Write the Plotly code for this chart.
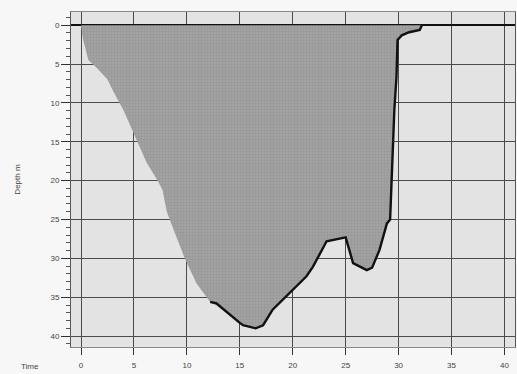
import plotly.graph_objects as go

# Boundary of the filled region (Time, Depth)
top_x = [0, 32.2]
top_y = [0, 0]

right_x = [32.2, 32.0, 31.0, 30.3, 29.9, 29.8, 29.6, 29.4, 29.3, 29.2, 28.9, 28.2, 27.5, 27.0,
           25.7, 25.2, 25.0, 23.2, 21.9, 21.3, 19.7, 18.1, 17.2, 16.5, 15.3, 15.0, 12.8, 12.2]
right_y = [0, 0.6, 0.9, 1.3, 1.9, 6.7, 10.9, 17.4, 22.5, 25.0, 25.5, 28.9, 31.2, 31.5,
           30.6, 28.0, 27.3, 27.8, 31.1, 32.3, 34.5, 36.6, 38.6, 39.0, 38.6, 38.3, 35.8, 35.6]

left_x = [12.2, 10.9, 9.8, 9.0, 8.1, 7.7, 7.2, 6.2, 5.4, 4.8, 4.0, 3.0, 2.5, 1.5, 0.7, 0.2, 0]
left_y = [35.6, 33.2, 30.0, 27.2, 24.0, 21.2, 19.9, 17.7, 15.2, 13.5, 10.9, 8.4, 7.0, 5.5, 4.5, 1.9, 0]

x_ticks = [0, 5, 10, 15, 20, 25, 30, 35, 40]
y_ticks = [0, 5, 10, 15, 20, 25, 30, 35, 40]

poly_x = top_x + right_x[1:] + left_x[1:]
poly_y = top_y + right_y[1:] + left_y[1:]

fig = go.Figure()
fig.add_trace(go.Scatter(
    x=poly_x, y=poly_y, mode="lines", fill="toself",
    line=dict(width=0, color="#9a9a9a"),
    fillcolor="#9a9a9a",
    fillpattern=dict(shape="+", fgcolor="#858585", bgcolor="#a2a2a2", size=3, solidity=0.3),
    hoverinfo="skip", showlegend=False))
fig.add_trace(go.Scatter(
    x=right_x, y=right_y, mode="lines",
    line=dict(width=2.4, color="#111111"),
    hoverinfo="skip", showlegend=False))

font = dict(family="Liberation Sans, Arial, sans-serif", size=8, color="#444444")

fig.update_layout(
    width=517, height=374,
    margin=dict(l=71, r=2, t=12, b=27),
    paper_bgcolor="#f7f7f7",
    plot_bgcolor="#e3e3e3",
    font=font,
    showlegend=False,
    xaxis=dict(
        range=[-0.95, 41.0], tickvals=x_ticks, ticktext=[str(v) for v in x_ticks],
        showgrid=True, gridcolor="#4a4a4a", gridwidth=1, zeroline=False,
        ticks="outside", ticklen=7, tickcolor="#333333", tickwidth=1,
        ticklabelstandoff=3,
        showline=True, linecolor="#888888", linewidth=1, mirror=True,
        tickfont=font, automargin=False),
    yaxis=dict(
        range=[41.4, -1.7], tickvals=y_ticks, ticktext=[str(v) for v in y_ticks],
        showgrid=True, gridcolor="#4a4a4a", gridwidth=1,
        zeroline=True, zerolinecolor="#111111", zerolinewidth=1.5,
        ticks="outside", ticklen=9, tickcolor="#333333", tickwidth=1,
        minor=dict(dtick=1, tick0=0, ticks="outside", ticklen=4, tickcolor="#555555", showgrid=False),
        showline=True, linecolor="#555555", linewidth=1, mirror=True,
        title=dict(text="Depth m", font=font, standoff=28),
        tickfont=font, automargin=False),
    annotations=[dict(text="Time", xref="paper", yref="paper", x=0, y=0,
                      xshift=-41, yshift=-19, showarrow=False, font=font,
                      xanchor="center", yanchor="middle")],
)

fig.write_html("out.html", config={"displayModeBar": False},
               post_script="document.body.style.margin='0';")
